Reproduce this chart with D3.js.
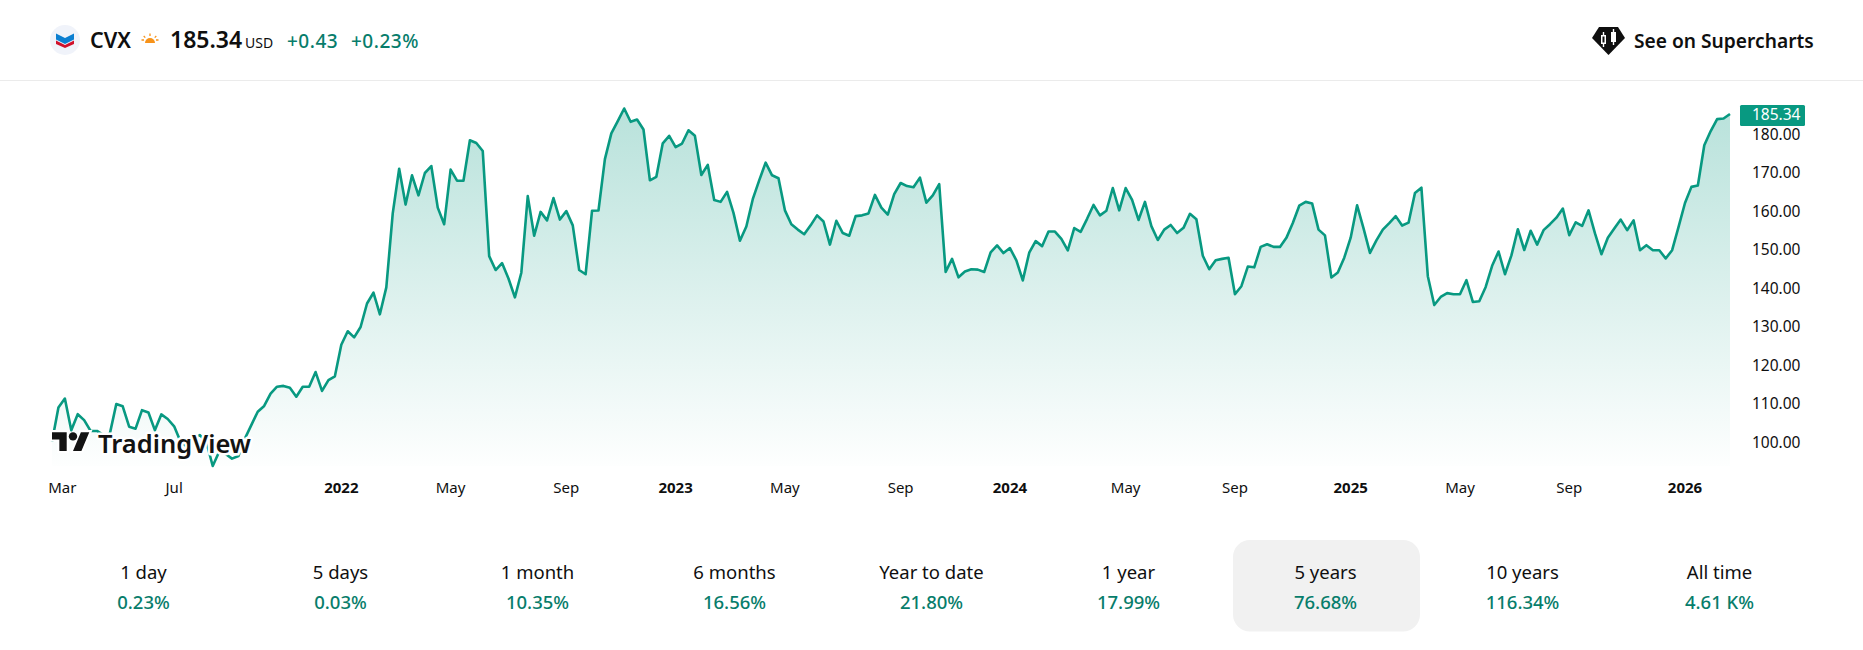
<!DOCTYPE html>
<html><head><meta charset="utf-8">
<script src="https://cdn.jsdelivr.net/npm/d3@7"></script>
<style>html,body{margin:0;padding:0;background:#fff}svg{display:block}text{font-family:"Noto Sans",sans-serif}</style>
</head><body><svg id="c" width="1863" height="650"></svg>
<script>
const closes=[100.2,109.1,111.4,103.2,107.35,105.8,103.0,103.0,101.9,102.3,110.0,109.4,104.1,103.6,108.4,107.8,103.2,107.3,106.1,104.2,
100.2,98.9,101.0,101.9,100.2,93.9,97.6,97.0,95.8,96.5,101.0,104.5,108.0,109.5,112.7,114.5,114.7,114.2,111.9,114.5,
114.5,118.3,113.4,116.2,117.2,125.4,128.9,127.3,130.0,136.1,138.9,133.3,140.3,159.5,171.1,161.8,169.4,164.2,170.0,171.8,
161.0,156.7,170.9,168.0,168.0,178.5,177.8,175.7,148.4,144.8,146.6,142.6,137.7,144.1,164.0,153.7,159.9,157.7,163.5,157.9,
160.1,156.4,144.8,143.7,160.2,160.25,173.6,180.3,183.5,186.75,183.3,183.9,181.3,168.1,169.0,177.7,179.65,176.7,177.65,181.1,
179.65,169.5,172.1,163.0,162.5,165.1,159.65,152.4,156.1,163.2,168.1,172.7,169.4,168.65,160.3,156.7,155.3,154.1,156.4,159.0,
157.4,151.4,157.6,154.4,153.7,158.8,159.0,159.5,164.3,161.0,159.2,164.5,167.4,166.6,166.3,168.8,162.3,164.2,167.1,144.3,
147.7,142.9,144.4,145.0,144.9,144.3,149.4,151.2,149.2,150.5,147.3,142.1,149.3,152.3,151.0,154.8,154.8,152.9,149.9,155.7,
154.7,158.1,161.7,159.0,160.2,166.1,160.3,166.1,163.0,157.8,162.5,156.2,152.6,155.3,156.5,154.4,155.75,159.4,158.0,148.5,
145.0,147.35,147.7,148.0,138.5,140.6,145.7,145.5,150.8,151.5,150.8,150.8,153.15,157.0,161.5,162.5,162.1,155.3,153.8,142.85,
144.15,148.0,153.2,161.6,155.6,149.25,152.5,155.3,157.0,158.8,156.35,157.1,164.8,166.2,143.2,135.7,137.8,138.8,138.5,138.5,
142.15,136.5,136.7,140.4,145.9,149.6,143.7,148.6,155.4,150.0,155.0,151.4,155.15,156.7,158.4,160.75,153.85,157.2,156.25,160.3,
154.3,148.9,153.2,155.6,157.9,155.15,157.7,149.95,151.25,149.95,149.95,147.8,149.95,156.0,162.2,166.4,166.75,177.2,180.9,184.0,
184.15,185.34];
const yTicks=[100,110,120,130,140,150,160,170,180];
const xTickLabels=["Mar","Jul","2022","May","Sep","2023","May","Sep","2024","May","Sep","2025","May","Sep","2026"];
const xTickWeeks=[1.6,19,45,62,80,97,114,132,149,167,184,202,219,236,254];
const periods=["1 day","5 days","1 month","6 months","Year to date","1 year","5 years","10 years","All time"];
const periodReturns=["0.23%","0.03%","10.35%","16.56%","21.80%","17.99%","76.68%","116.34%","4.61 K%"];
const selectedPeriod="5 years";
const lastPrice=185.34;

const svg=d3.select("#c");
const INK="#0f0f0f",GREEN="#077d6b",LINE="#089981";
const x=d3.scaleLinear().domain([0,closes.length-1]).range([52,1730]);
const y=d3.scaleLinear().domain([100,180]).range([442.5,134.5]);
const defs=svg.append("defs");
const g=defs.append("linearGradient").attr("id","fade").attr("gradientUnits","userSpaceOnUse")
 .attr("x1",0).attr("x2",0).attr("y1",y(188)).attr("y2",y(92));
g.append("stop").attr("offset",0).attr("stop-color",LINE).attr("stop-opacity",.29);
g.append("stop").attr("offset",1).attr("stop-color",LINE).attr("stop-opacity",0);

// header
svg.append("line").attr("x1",0).attr("x2",1863).attr("y1",80.5).attr("y2",80.5).attr("stroke","#ebebeb");
svg.append("circle").attr("cx",65).attr("cy",40).attr("r",15).attr("fill","#f0f3fa");
svg.append("path").attr("d","M56 33.5 L65 38 L74 33.5 L74 39.5 L65 44 L56 39.5Z").attr("fill","#0b7fd1");
svg.append("path").attr("d","M56 40.5 L65 45 L74 40.5 L74 44 L65 48 L56 44Z").attr("fill","#d0112b");
svg.append("text").attr("x",90).attr("y",47.5).attr("font-size",21.5).attr("font-weight",600).attr("fill",INK).text("CVX");
const sun=svg.append("g").attr("fill","#f7931a").attr("stroke","#f7931a");
sun.append("path").attr("d","M145 43 A5 5 0 0 1 155 43Z").attr("stroke","none");
sun.append("path").attr("stroke-width",1.3).attr("fill","none").attr("d","M150 33.5V36M143.7 36l1.6 1.6M156.3 36l-1.6 1.6M141.5 40h2.5M156 40h2.5");
svg.append("text").attr("x",170).attr("y",48).attr("font-size",23).attr("font-weight",600).attr("fill",INK).text("185.34");
svg.append("text").attr("x",245).attr("y",48).attr("font-size",14).attr("fill",INK).text("USD");
svg.append("text").attr("x",287).attr("y",47.5).attr("font-size",19).attr("font-weight",500).attr("letter-spacing",.5).attr("fill",GREEN).text("+0.43");
svg.append("text").attr("x",351).attr("y",47.5).attr("font-size",19).attr("font-weight",500).attr("letter-spacing",.5).attr("fill",GREEN).text("+0.23%");
svg.append("path").attr("d","M1599 27H1618L1625 38L1608.5 55L1592 38Z").attr("fill",INK);
svg.append("path").attr("d","M1601 35h5v9h-5zM1611 32h5v10h-5z").attr("fill","#fff");
svg.append("path").attr("d","M1603.5 32v15M1613.5 29v16").attr("stroke","#fff").attr("stroke-width",1.4);
svg.append("path").attr("d","M1602.5 36.5h2v6h-2z").attr("fill",INK);
svg.append("text").attr("x",1634).attr("y",47.5).attr("font-size",19.2).attr("font-weight",600).attr("fill",INK).text("See on Supercharts");

// chart
const area=d3.area().x((d,i)=>x(i)).y0(466).y1(d=>y(d));
const line=d3.line().x((d,i)=>x(i)).y(d=>y(d));
svg.append("path").datum(closes).attr("d",area).attr("fill","url(#fade)");
svg.append("path").datum(closes).attr("d",line).attr("fill","none").attr("stroke",LINE).attr("stroke-width",2.6).attr("stroke-linejoin","round");

// logo
const logo=svg.append("g").attr("transform","translate(52,428) scale(1.05)");
logo.append("path").attr("d","M14 22H7V11H0V4h14v18zM28 22h-8l7.5-18h8L28 22z").attr("fill","#131313").attr("stroke","#fff").attr("stroke-width",4).attr("paint-order","stroke");
logo.append("circle").attr("cx",20).attr("cy",8).attr("r",4).attr("fill","#131313");
svg.append("text").attr("x",98).attr("y",453).attr("font-size",25.5).attr("font-weight",600).attr("fill","#131313")
 .attr("stroke","#fff").attr("stroke-width",5).attr("stroke-linejoin","round").attr("paint-order","stroke").text("TradingView");

// y axis
const yAxis=d3.axisRight(y).tickValues(yTicks).tickSize(0).tickPadding(0).tickFormat(d3.format(".2f"));
const ya=svg.append("g").attr("transform","translate(1752,0)").call(yAxis);
ya.select(".domain").remove();
ya.selectAll("text").attr("font-size",15.5).attr("fill",INK).style("font-family",'"Noto Sans",sans-serif');
svg.append("rect").attr("x",1740).attr("y",y(lastPrice)-9).attr("width",65).attr("height",21).attr("rx",1.5).attr("fill",LINE);
svg.append("text").attr("x",1752).attr("y",y(lastPrice)+1.5).attr("dy",".32em").attr("font-size",15.5).attr("fill","#fff").text(lastPrice.toFixed(2));

// x axis
const xLab=svg.append("g");
xLab.selectAll("text").data(xTickLabels).join("text")
 .attr("x",(d,i)=>x(xTickWeeks[i])).attr("y",493).attr("text-anchor","middle").attr("font-size",15)
 .attr("font-weight",d=>/^\d+$/.test(d)?700:400).attr("fill",INK).text(d=>d);

// periods
const col=d3.scalePoint().domain(d3.range(periods.length)).range([143.5,1719.5]);
const si=periods.indexOf(selectedPeriod);
svg.append("rect").attr("x",col(si)-92.5).attr("y",540).attr("width",187).attr("height",91.5).attr("rx",17).attr("fill","#f1f1f1");
svg.append("g").selectAll("text").data(periods).join("text").attr("x",(d,i)=>col(i)).attr("y",578.5).attr("text-anchor","middle").attr("font-size",18.5).attr("fill",INK).text(d=>d);
svg.append("g").selectAll("text").data(periodReturns).join("text").attr("x",(d,i)=>col(i)).attr("y",608.5).attr("text-anchor","middle").attr("font-size",18.5).attr("font-weight",500).attr("fill",GREEN).text(d=>d);
</script></body></html>
